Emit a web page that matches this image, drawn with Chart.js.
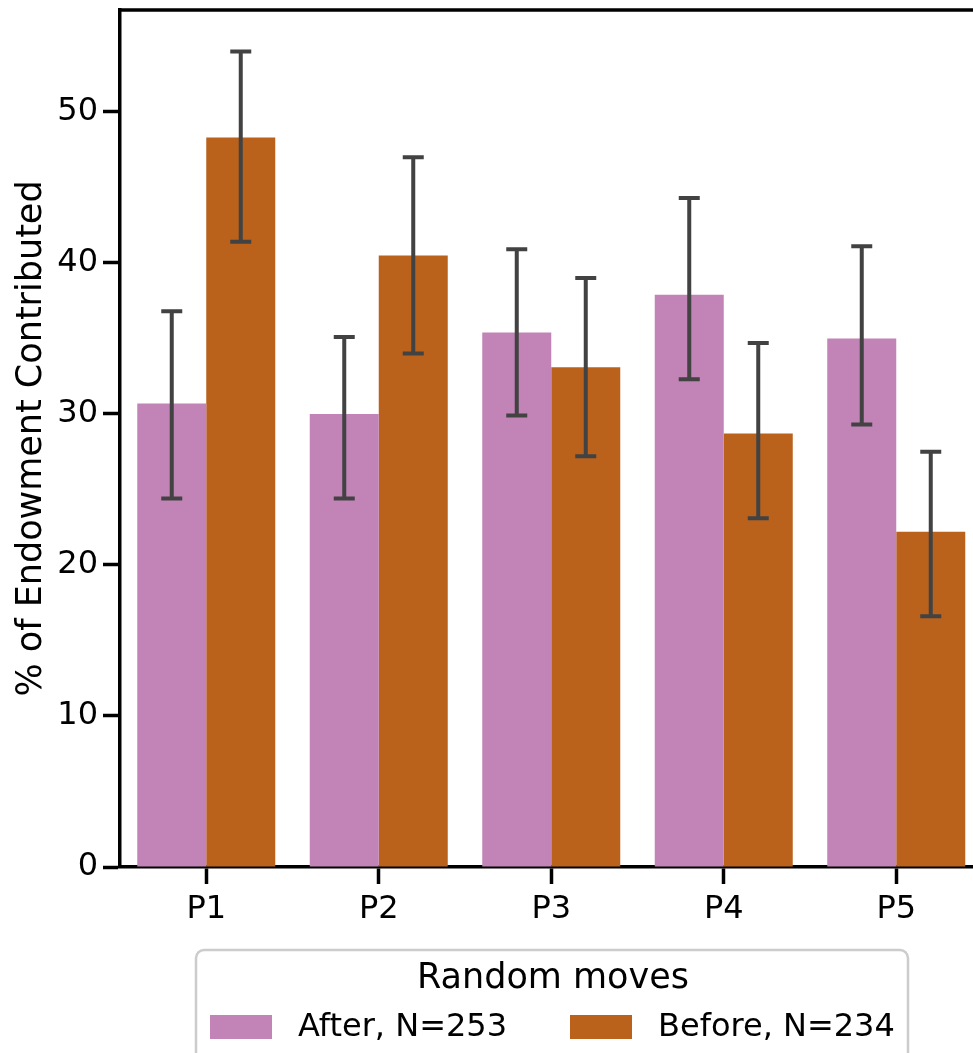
<!DOCTYPE html>
<html>
<head>
<meta charset="utf-8">
<script src="https://cdn.jsdelivr.net/npm/chart.js@4/dist/chart.umd.min.js"></script>
<style>
  html, body { margin: 0; padding: 0; background: #fff; overflow: hidden; }
  #wrap { position: absolute; left: 0; top: 0; }
</style>
</head>
<body>
<div id="wrap"><canvas id="chart" width="1000" height="1053"></canvas></div>
<script>
const categories = ['P1', 'P2', 'P3', 'P4', 'P5'];
const seriesNames = ['After, N=253', 'Before, N=234'];
const afterMeans = [30.7, 30.0, 35.4, 37.9, 35.0];
const afterLow = [24.4, 24.4, 29.9, 32.3, 29.3];
const afterHigh = [36.8, 35.1, 40.9, 44.3, 41.1];
const beforeMeans = [48.3, 40.5, 33.1, 28.7, 22.2];
const beforeLow = [41.4, 34.0, 27.2, 23.1, 16.6];
const beforeHigh = [54.0, 47.0, 39.0, 34.7, 27.5];
const yTicks = [0, 10, 20, 30, 40, 50];
const legendTitle = 'Random moves';
const yTitle = '% of Endowment Contributed';

const font = '"DejaVu Sans", sans-serif';
const colors = ['#C283B6', '#BA621C'];
const errLow = [afterLow, beforeLow];
const errHigh = [afterHigh, beforeHigh];

// error bars drawn through the y scale
const errorBars = {
  id: 'errorBars',
  afterDatasetsDraw(chart) {
    const ctx = chart.ctx;
    const y = chart.scales.y;
    ctx.save();
    ctx.strokeStyle = '#424242';
    ctx.lineWidth = 4;
    chart.data.datasets.forEach((ds, i) => {
      chart.getDatasetMeta(i).data.forEach((bar, j) => {
        const lo = y.getPixelForValue(errLow[i][j]);
        const hi = y.getPixelForValue(errHigh[i][j]);
        ctx.beginPath();
        ctx.moveTo(bar.x, lo); ctx.lineTo(bar.x, hi);
        ctx.moveTo(bar.x - 10.5, lo); ctx.lineTo(bar.x + 10.5, lo);
        ctx.moveTo(bar.x - 10.5, hi); ctx.lineTo(bar.x + 10.5, hi);
        ctx.stroke();
      });
    });
    ctx.restore();
  }
};

// top/right spines + boxed legend
const frame = {
  id: 'frame',
  afterDraw(chart) {
    const ctx = chart.ctx;
    const a = chart.chartArea;
    ctx.save();
    ctx.strokeStyle = '#000';
    ctx.lineWidth = 3.5;
    ctx.beginPath();
    ctx.moveTo(a.left - 1.75, a.top); ctx.lineTo(a.right, a.top); ctx.lineTo(a.right, a.bottom);
    ctx.stroke();

    ctx.strokeStyle = '#cccccc';
    ctx.lineWidth = 2.5;
    ctx.beginPath();
    ctx.roundRect(196, 950, 712, 140, 8);
    ctx.stroke();

    ctx.fillStyle = '#000';
    ctx.textBaseline = 'middle';
    ctx.textAlign = 'center';
    ctx.font = '35px ' + font;
    ctx.fillText(legendTitle, 553, 979);

    ctx.textAlign = 'left';
    ctx.font = '32px ' + font;
    const xs = [210, 570];
    chart.data.datasets.forEach((ds, i) => {
      ctx.fillStyle = ds.backgroundColor;
      ctx.fillRect(xs[i], 1015, 62, 24);
      ctx.fillStyle = '#000';
      ctx.fillText(ds.label, xs[i] + 88, 1028);
    });
    ctx.restore();
  }
};

new Chart(document.getElementById('chart'), {
  type: 'bar',
  data: {
    labels: categories,
    datasets: [
      { label: seriesNames[0], data: afterMeans, backgroundColor: colors[0] },
      { label: seriesNames[1], data: beforeMeans, backgroundColor: colors[1] }
    ]
  },
  options: {
    responsive: false,
    animation: false,
    devicePixelRatio: 1,
    layout: { padding: { left: 0, top: 10, right: 17.5, bottom: 126 } },
    datasets: { bar: { categoryPercentage: 0.8, barPercentage: 1.0, borderWidth: 0 } },
    plugins: { legend: { display: false }, tooltip: { enabled: false } },
    scales: {
      x: {
        grid: { offset: false, drawOnChartArea: false, tickLength: 17, tickWidth: 3.5, tickColor: '#000' },
        border: { display: true, color: '#000', width: 3.5 },
        ticks: { color: '#000', font: { family: font, size: 32 }, padding: 6 },
        afterFit(s) { s.height = 60; s.paddingLeft = 0; s.paddingRight = 0; }
      },
      y: {
        min: 0,
        max: 56.75,
        grid: { drawOnChartArea: false, tickLength: 17, tickWidth: 3.5, tickColor: '#000' },
        border: { display: true, color: '#000', width: 3.5 },
        ticks: { color: '#000', font: { family: font, size: 32 }, padding: 5 },
        afterBuildTicks(s) { s.ticks = yTicks.map(v => ({ value: v })); },
        title: { display: true, text: yTitle, color: '#000', font: { family: font, size: 35 }, padding: { top: 11, bottom: 0 } },
        afterFit(s) { s.width = 120; s.paddingTop = 0; s.paddingBottom = 0; }
      }
    }
  },
  plugins: [errorBars, frame]
});
</script>
</body>
</html>
